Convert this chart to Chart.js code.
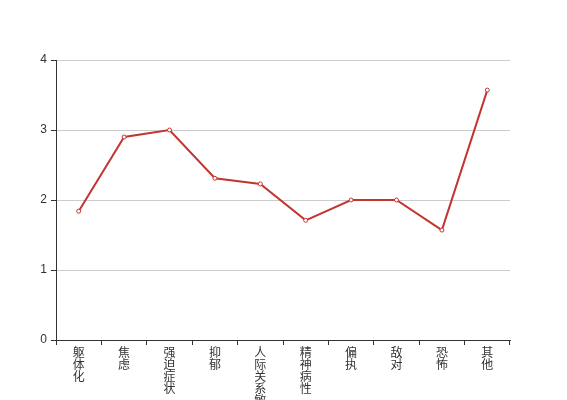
<!DOCTYPE html>
<html>
<head>
<meta charset="utf-8">
<script src="https://cdn.jsdelivr.net/npm/chart.js@4/dist/chart.umd.min.js"></script>
<style>
  html, body { margin: 0; padding: 0; background: #fff; }
  #wrap { width: 567px; height: 400px; }
</style>
</head>
<body>
<div id="wrap"><canvas id="chart" width="567" height="400"></canvas></div>
<script>
// 因子名称
const categories = ['躯体化', '焦虑', '强迫症状', '抑郁', '人际关系敏感', '精神病性', '偏执', '敌对', '恐怖', '其他'];
// 因子得分
const scores = [1.84, 2.9, 3.0, 2.31, 2.23, 1.71, 2.0, 2.0, 1.57, 3.57];
// y轴刻度
const yTicks = [0, 1, 2, 3, 4];

// 竖排文字：每个字一行
const verticalLabels = categories.map(c => c.split(''));

const fontFamily = "'Liberation Sans', 'Noto Sans CJK SC', sans-serif";

new Chart(document.getElementById('chart'), {
  type: 'line',
  data: {
    labels: verticalLabels,
    datasets: [{
      data: scores,
      borderColor: '#c23531',
      backgroundColor: '#ffffff',
      borderWidth: 2,
      pointRadius: 2,
      pointBorderWidth: 1,
      pointBorderColor: '#c23531',
      pointBackgroundColor: '#ffffff',
      tension: 0,
      fill: false
    }]
  },
  options: {
    responsive: false,
    animation: false,
    layout: { padding: { left: 0, right: 57, top: 60, bottom: 0 } },
    plugins: {
      legend: { display: false },
      tooltip: { enabled: false }
    },
    scales: {
      x: {
        offset: true,
        afterFit: (scale) => { scale.height = 60; },
        grid: {
          offset: true,
          drawOnChartArea: false,
          drawTicks: true,
          tickLength: 5,
          tickColor: '#333'
        },
        border: { display: true, color: '#333', width: 1 },
        ticks: {
          autoSkip: false,
          maxRotation: 0,
          minRotation: 0,
          padding: 3,
          color: '#333',
          font: { family: fontFamily, size: 12, lineHeight: 1 }
        }
      },
      y: {
        min: yTicks[0],
        max: yTicks[yTicks.length - 1],
        afterFit: (scale) => { scale.width = 56; },
        afterBuildTicks: (scale) => { scale.ticks = yTicks.map(v => ({ value: v })); },
        grid: {
          color: '#cccccc',
          tickColor: '#333',
          tickLength: 5
        },
        border: { display: true, color: '#333', width: 1 },
        ticks: {
          padding: 4,
          color: '#333',
          font: { family: fontFamily, size: 12 }
        }
      }
    }
  }
});
</script>
</body>
</html>
